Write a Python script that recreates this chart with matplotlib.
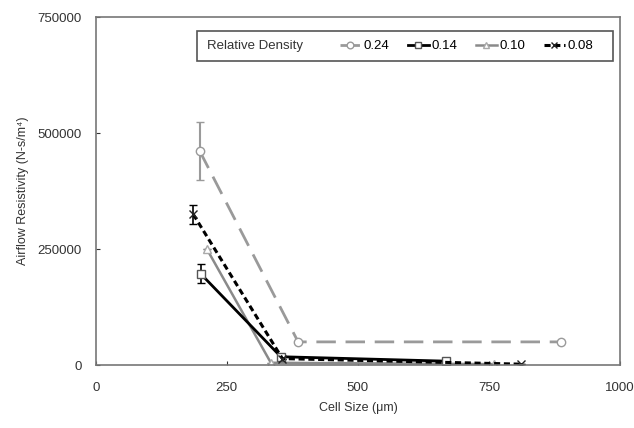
import matplotlib
matplotlib.use("Agg")
import matplotlib.pyplot as plt
from matplotlib.patches import Rectangle
from matplotlib.lines import Line2D

plt.rcParams['font.family'] = ['Liberation Sans', 'DejaVu Sans']

# relative density 0.24
x24 = [198, 386, 888]
y24 = [462000, 50000, 50000]
e24 = [62000, 0, 0]
# relative density 0.14
x14 = [200, 353, 668]
y14 = [197000, 18000, 8500]
e14 = [20000, 0, 0]
# relative density 0.10
x10 = [212, 334, 760]
y10 = [250000, 5000, 2000]
e10 = [0, 0, 0]
# relative density 0.08
x08 = [186, 356, 811]
y08 = [325000, 14000, 2000]
e08 = [20000, 0, 0]

labels = ['0.24', '0.14', '0.10', '0.08']

fig = plt.figure(figsize=(6.34, 4.28), dpi=100)
ax = fig.add_axes([0.151, 0.147, 0.827, 0.813])

st24 = dict(color='#9a9a9a', ls=(0, (7, 3.5)), lw=2, marker='o', ms=6, mfc='white', mec='#9a9a9a')
st10 = dict(color='#8a8a8a', ls='-', lw=1.8, marker='^', ms=6, mfc='white', mec='#aaaaaa')
st14 = dict(color='black', ls='-', lw=2, marker='s', ms=6, mfc='white', mec='#555555')
st08 = dict(color='black', ls=(0, (2, 1.2)), lw=2.2, marker='x', ms=6, mec='#222222')

ax.errorbar(x24, y24, yerr=e24, capsize=3, elinewidth=1.5, **st24)
ax.errorbar(x10, y10, yerr=e10, capsize=3, **st10)
ax.errorbar(x14, y14, yerr=e14, capsize=3, elinewidth=1.2, **st14)
ax.errorbar(x08, y08, yerr=e08, capsize=3, elinewidth=1.2, **st08)

ax.set_xlim(0, 1000)
ax.set_ylim(0, 750000)
ax.set_xticks([0, 250, 500, 750, 1000])
ax.set_yticks([0, 250000, 500000, 750000])
ax.tick_params(direction='in', labelsize=9.5, colors='#333333', length=3)
ax.tick_params(axis='x', pad=12)
ax.tick_params(axis='y', pad=10)
for s in ax.spines.values():
    s.set_color('#777777')
    s.set_linewidth(1.2)

ax.set_xlabel('Cell Size (\u03bcm)', fontsize=9, color='#333333', labelpad=6)
ax.set_ylabel('Airflow Resistivity (N-s/m\u2074)', fontsize=9, color='#333333', labelpad=6)

# legend frame with inline title
ax.add_patch(Rectangle((0.193, 0.875), 0.793, 0.085, transform=ax.transAxes,
                       facecolor='white', edgecolor='#555555', lw=1.2, zorder=5))
ax.text(0.213, 0.917, 'Relative Density', transform=ax.transAxes, fontsize=9.5,
        va='center', ha='left', color='#333333', zorder=6)
handles = [Line2D([], [], **st24), Line2D([], [], **st14),
           Line2D([], [], **st10), Line2D([], [], **st08)]
leg = ax.legend(handles, labels, ncol=4,
                loc='center left', bbox_to_anchor=(0.455, 0.917), frameon=False,
                fontsize=9.5, handlelength=1.6, handletextpad=0.2, columnspacing=1.4,
                borderaxespad=0, markerscale=0.8)
leg.set_zorder(7)

fig.savefig('out.png', dpi=100)
